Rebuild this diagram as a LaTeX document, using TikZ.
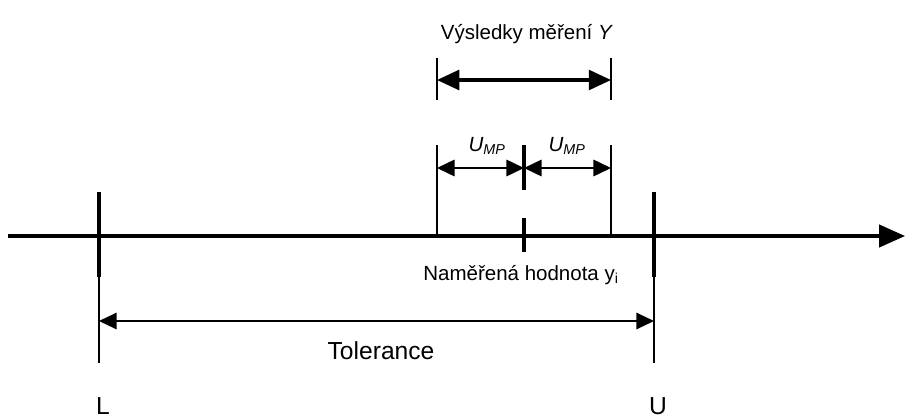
\documentclass[tikz,border=0pt]{standalone}
\usepackage{fontspec}
\setmainfont{Liberation Sans}
\usetikzlibrary{arrows.meta}

\begin{document}
\begin{tikzpicture}[x=0.03cm,y=-0.03cm,
    axis/.style={line width=2.6pt,-{Triangle[length=22pt,width=19pt]}},
    boldtick/.style={line width=2.8pt},
    finetick/.style={line width=1.2pt},
    dim/.style={line width=1.3pt,{Triangle[length=15pt,width=14pt]}-{Triangle[length=15pt,width=14pt]}},
    txt/.style={font=\fontsize{17.5}{20}\selectfont},
    bigtxt/.style={font=\fontsize{21}{24}\selectfont}]
  \useasboundingbox (0,0) rectangle (905,419);

  % number line
  \coordinate (start) at (8,236);
  \coordinate (end) at (905,236);
  \draw [axis] (start) -- (end);

  % tolerance limits L and U
  \foreach \name/\x in {L/99,U/654}
  {
    \coordinate (\name top) at (\x,192);
    \coordinate (\name mid) at (\x,277);
    \coordinate (\name bot) at (\x,363);
    \draw [boldtick] (\name top) -- (\name mid);
    \draw [finetick] (\name mid) -- (\name bot);
    \node [bigtxt] (\name label) at (\x+4,406) {\name};
  }
  \coordinate (tol L) at (99,321);
  \coordinate (tol U) at (654,321);
  \draw [dim] (tol L) -- (tol U);
  \node [bigtxt] (tol) at (381,351) {Tolerance};

  % measured value y_i
  \coordinate (yi top) at (524,218);
  \coordinate (yi bot) at (524,252);
  \draw [boldtick] (yi top) -- (yi bot);
  \node [txt] (measured) at (521,275) {Naměřená hodnota y\textsubscript{i}};

  % U_MP on both sides
  \coordinate (mp top) at (524,145);
  \coordinate (mp bot) at (524,190);
  \draw [boldtick] (mp top) -- (mp bot);
  \foreach \name/\x in {left/437,right/611}
  {
    \coordinate (\name top) at (\x,145);
    \coordinate (\name axis) at (\x,236);
    \draw [finetick] (\name top) -- (\name axis);
  }
  \coordinate (mp left) at (437,168);
  \coordinate (mp mid) at (524,168);
  \coordinate (mp right) at (611,168);
  \draw [dim,line width=1.8pt] (mp left) -- (mp mid);
  \draw [dim,line width=1.8pt] (mp mid) -- (mp right);
  \node [txt] (ump left) at (487,146) {\textit{U\textsubscript{MP}}};
  \node [txt] (ump right) at (567,146) {\textit{U\textsubscript{MP}}};

  % range of results Y
  \foreach \name/\x in {left/437,right/611}
  {
    \coordinate (res \name top) at (\x,58);
    \coordinate (res \name bot) at (\x,100);
    \draw [finetick] (res \name top) -- (res \name bot);
  }
  \coordinate (res left) at (437,80);
  \coordinate (res right) at (611,80);
  \draw [line width=2.6pt,{Triangle[length=19pt,width=17pt]}-{Triangle[length=19pt,width=17pt]}]
    (res left) -- (res right);
  \node [txt] (results) at (527,34) {Výsledky měření \textit{Y}};

\end{tikzpicture}
\end{document}
